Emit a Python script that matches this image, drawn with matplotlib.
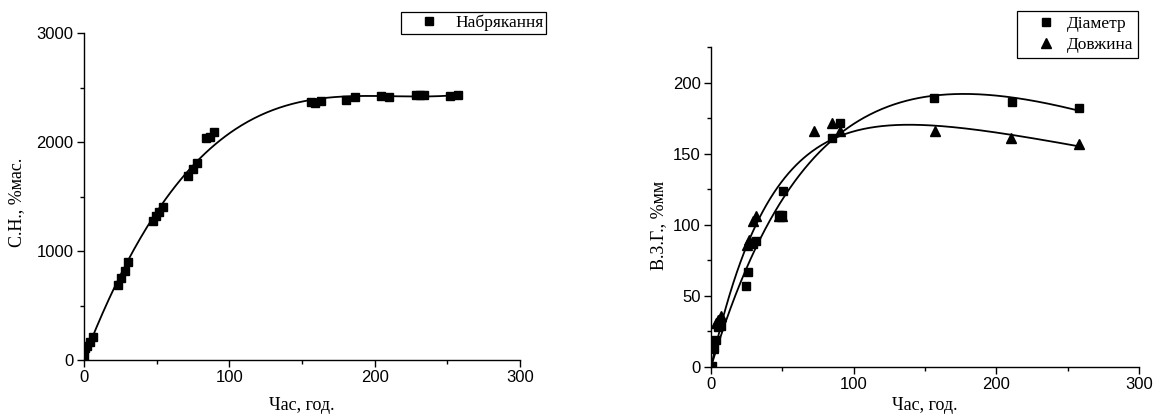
import numpy as np
import matplotlib
matplotlib.use("Agg")
import matplotlib.pyplot as plt
from matplotlib.ticker import MultipleLocator

# swelling data (left chart)
t_swell = [0.3, 0.7, 2.3, 4.1, 6.0, 23.6, 25.5, 28.2, 30.5, 47.7, 49.6, 51.8, 54.2,
           71.8, 74.8, 77.6, 84.0, 86.7, 89.7, 156.2, 159.0, 162.9, 180.0, 186.2,
           204.2, 210.1, 228.3, 231.2, 234.2, 251.9, 257.6]
swell = [40, 107, 131, 168, 214, 688, 755, 819, 896, 1278, 1321, 1361, 1401,
         1691, 1749, 1804, 2039, 2048, 2094, 2364, 2360, 2376, 2388, 2410,
         2422, 2416, 2437, 2431, 2431, 2425, 2434]

# diameter / length data (right chart)
t_diam = [0.5, 2.1, 3.3, 5.1, 7.0, 24.3, 26.1, 29.2, 31.3, 47.6, 49.5, 50.2,
          84.6, 90.4, 156.5, 210.7, 257.9]
diam = [0.5, 13.5, 18.5, 28, 28.5, 57, 67, 86.5, 88.5, 107, 107, 124,
        161.5, 171.5, 189.5, 186.5, 182.5]
t_len = [1.6, 3.5, 5.0, 7.0, 25.0, 26.6, 29.2, 31.3, 47.6, 49.5, 72.4, 84.6,
         90.4, 157.0, 210.2, 257.9]
length = [13, 30.5, 33, 35.5, 86, 89.5, 102.5, 106, 106.5, 106.5, 166, 172,
          166, 166, 161, 157]

plt.rcParams["font.family"] = ["Liberation Sans", "DejaVu Sans"]
serif = ["Liberation Serif", "DejaVu Serif"]


def sat_fit(x, y, xs):
    # y = A*(1 - exp(-k x)) - c*x, k found on a grid, A and c by least squares
    x = np.asarray(x, float)
    y = np.asarray(y, float)
    best = None
    for k in np.linspace(0.002, 0.2, 2000):
        M = np.column_stack([1 - np.exp(-k * x), -x])
        coef, res, *_ = np.linalg.lstsq(M, y, rcond=None)
        err = np.sum((M @ coef - y) ** 2)
        if best is None or err < best[0]:
            best = (err, k, coef)
    _, k, (A, c) = best
    return A * (1 - np.exp(-k * xs)) - c * xs


fig = plt.figure(figsize=(11.53, 4.19), dpi=100)
ax1 = fig.add_axes([0.0729, 0.1408, 0.378, 0.780])
ax2 = fig.add_axes([0.6167, 0.1248, 0.3712, 0.762])


def style(ax):
    for s in ["top", "right"]:
        ax.spines[s].set_visible(False)
    for s in ["left", "bottom"]:
        ax.spines[s].set_linewidth(1.0)
    ax.tick_params(which="major", direction="out", length=5, width=1, labelsize=12, pad=2.5)
    ax.tick_params(which="minor", direction="out", length=3, width=1)


# left chart
ax1.plot(t_swell, swell, "s", color="black", markersize=5.3, label="Набрякання")
xs = np.linspace(0, max(t_swell), 300)
ax1.plot(xs, np.polyval(np.polyfit(t_swell, swell, 3), xs), color="black", lw=1.3)
ax1.set_xlim(0, 300)
ax1.set_ylim(0, 3000)
ax1.xaxis.set_major_locator(MultipleLocator(100))
ax1.xaxis.set_minor_locator(MultipleLocator(50))
ax1.yaxis.set_major_locator(MultipleLocator(1000))
ax1.yaxis.set_minor_locator(MultipleLocator(500))
style(ax1)
ax1.set_xlabel("Час, год.", family=serif, fontsize=13)
ax1.xaxis.set_label_coords(0.5, -0.114)
ax1.set_ylabel("С.Н., %мас.", family=serif, fontsize=13)
ax1.yaxis.set_label_coords(-0.135, 0.483)
leg1 = ax1.legend(loc="upper right", bbox_to_anchor=(0.4735, 0.9714),
                  bbox_transform=fig.transFigure, fancybox=False, framealpha=1,
                  edgecolor="black", prop={"family": serif, "size": 12.5},
                  handlelength=2.9, handletextpad=0.05, borderpad=0.15,
                  borderaxespad=0)
leg1.get_frame().set_linewidth(0.9)

# right chart
ax2.plot(t_diam, diam, "s", color="black", markersize=5.3, label="Діаметр")
ax2.plot(t_len, length, "^", color="black", markersize=6.5, label="Довжина")
xs2 = np.linspace(0, max(t_diam), 300)
ax2.plot(xs2, sat_fit(t_diam, diam, xs2), color="black", lw=1.3)
ax2.plot(xs2, sat_fit(t_len, length, xs2), color="black", lw=1.3)
ax2.set_xlim(0, 300)
ax2.set_ylim(0, 225)
ax2.xaxis.set_major_locator(MultipleLocator(100))
ax2.xaxis.set_minor_locator(MultipleLocator(50))
ax2.yaxis.set_major_locator(MultipleLocator(50))
ax2.yaxis.set_minor_locator(MultipleLocator(25))
style(ax2)
ax2.set_xlabel("Час, год.", family=serif, fontsize=13)
ax2.xaxis.set_label_coords(0.5, -0.096)
ax2.set_ylabel("В.З.Г., %мм", family=serif, fontsize=13)
ax2.yaxis.set_label_coords(-0.103, 0.444)
leg2 = ax2.legend(loc="upper right", bbox_to_anchor=(0.987, 0.974),
                  bbox_transform=fig.transFigure, fancybox=False, framealpha=1,
                  edgecolor="black", prop={"family": serif, "size": 12.5},
                  handlelength=2.8, handletextpad=-0.2, borderpad=0.28,
                  borderaxespad=0, labelspacing=0.3)
leg2.get_frame().set_linewidth(0.9)

fig.savefig("out.png", dpi=100)
